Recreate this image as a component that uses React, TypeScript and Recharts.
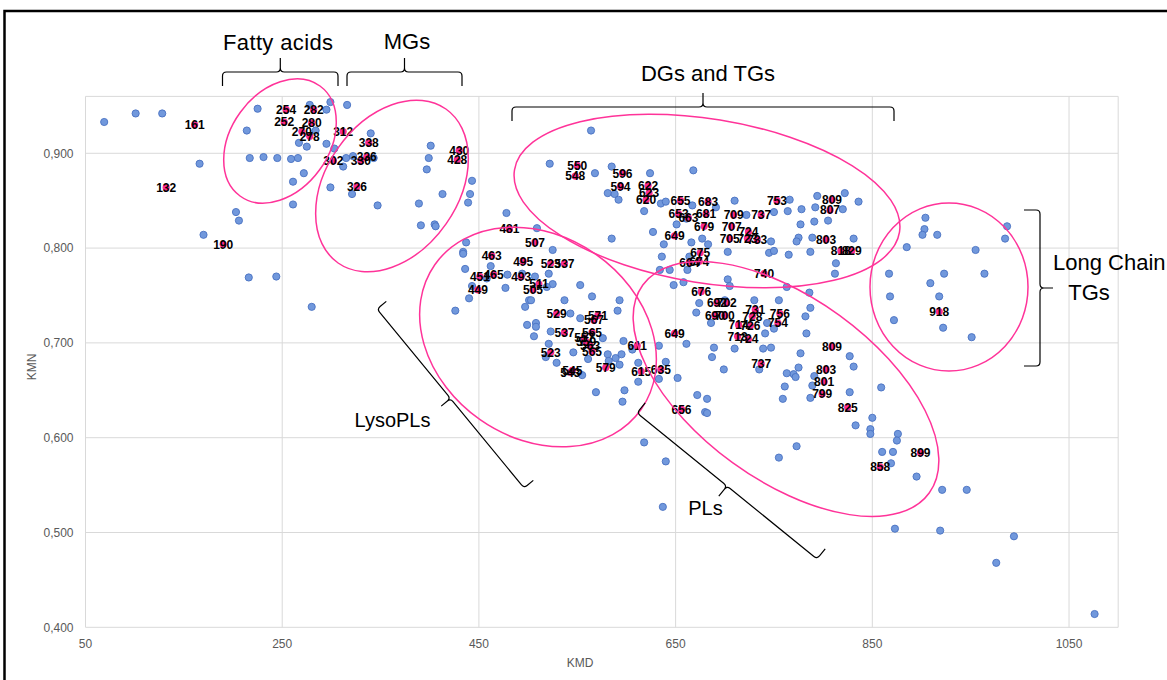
import React from 'react';
import { ScatterChart, Scatter, XAxis, YAxis, CartesianGrid } from 'recharts';

// ---------- data ----------
const blueKMD = [
  69, 101, 128, 166, 214, 225, 217, 231, 245, 259, 266, 278, 295, 299, 316, 284, 267, 275, 295, 303,
  315, 312, 272, 261, 299, 261, 203, 206, 170, 216, 244, 280, 322, 340, 343, 321, 347, 401, 399, 397,
  413, 389, 391, 405, 406, 443, 441, 439, 478, 437, 434, 434, 436, 462, 458, 443, 440, 477, 479, 494,
  426, 501, 497, 564, 522, 585, 568, 624, 668, 581, 588, 592, 618, 635, 640, 667, 691, 710, 651, 661,
  722, 750, 509, 585, 627, 638, 636, 666, 677, 683, 703, 745, 750, 525, 664, 662, 634, 644, 658, 648,
  703, 705, 521, 553, 525, 507, 503, 537, 565, 593, 674, 730, 755, 766, 764, 778, 794, 822, 836, 792,
  820, 805, 791, 777, 775, 773, 789, 747, 831, 765, 787, 813, 812, 763, 786, 787, 782, 783, 743, 741,
  750, 747, 904, 903, 901, 916, 885, 987, 985, 955, 867, 923, 964, 909, 868, 918, 872, 922, 951, 519,
  591, 543, 553, 508, 499, 508, 506, 523, 521, 518, 529, 546, 561, 576, 556, 581, 589, 595, 597, 593,
  582, 606, 612, 612, 598, 596, 569, 555, 633, 640, 633, 652, 671, 686, 700, 661, 689, 710, 739, 777,
  687, 699, 735, 775, 770, 772, 763, 761, 759, 791, 789, 787, 827, 831, 827, 833, 850, 848, 848, 859,
  672, 682, 680, 682, 618, 640, 637, 755, 773, 876, 875, 860, 871, 869, 895, 921, 946, 873, 919, 994,
  976, 1076,
];
const blueKMN = [
  0.933, 0.942, 0.942, 0.889, 0.924, 0.947, 0.895, 0.896, 0.895, 0.894, 0.895, 0.951, 0.946, 0.954, 0.951, 0.924, 0.911, 0.907, 0.910, 0.905,
  0.895, 0.886, 0.879, 0.870, 0.864, 0.846, 0.838, 0.829, 0.814, 0.769, 0.770, 0.738, 0.897, 0.921, 0.895, 0.857, 0.845, 0.908, 0.895, 0.883,
  0.857, 0.847, 0.824, 0.825, 0.823, 0.871, 0.857, 0.848, 0.837, 0.806, 0.796, 0.794, 0.778, 0.781, 0.768, 0.760, 0.747, 0.758, 0.772, 0.773,
  0.734, 0.745, 0.738, 0.924, 0.889, 0.886, 0.879, 0.879, 0.882, 0.858, 0.857, 0.851, 0.839, 0.847, 0.849, 0.845, 0.843, 0.850, 0.825, 0.831,
  0.835, 0.838, 0.821, 0.810, 0.817, 0.804, 0.791, 0.806, 0.810, 0.804, 0.796, 0.795, 0.797, 0.798, 0.791, 0.777, 0.777, 0.777, 0.764, 0.761,
  0.767, 0.760, 0.773, 0.761, 0.762, 0.770, 0.745, 0.745, 0.749, 0.745, 0.742, 0.745, 0.745, 0.851, 0.839, 0.841, 0.855, 0.858, 0.849, 0.843,
  0.841, 0.829, 0.828, 0.825, 0.811, 0.807, 0.811, 0.807, 0.810, 0.793, 0.796, 0.784, 0.773, 0.759, 0.753, 0.737, 0.728, 0.710, 0.721, 0.710,
  0.715, 0.695, 0.832, 0.820, 0.814, 0.814, 0.801, 0.823, 0.810, 0.798, 0.773, 0.773, 0.773, 0.763, 0.749, 0.749, 0.724, 0.716, 0.706, 0.759,
  0.734, 0.731, 0.726, 0.721, 0.719, 0.717, 0.707, 0.712, 0.699, 0.685, 0.679, 0.690, 0.683, 0.705, 0.703, 0.688, 0.684, 0.688, 0.702, 0.677,
  0.681, 0.693, 0.679, 0.659, 0.650, 0.638, 0.648, 0.666, 0.697, 0.680, 0.662, 0.663, 0.732, 0.721, 0.745, 0.699, 0.695, 0.694, 0.694, 0.689,
  0.685, 0.672, 0.672, 0.674, 0.667, 0.664, 0.668, 0.654, 0.641, 0.665, 0.655, 0.642, 0.686, 0.675, 0.648, 0.613, 0.621, 0.609, 0.604, 0.653,
  0.645, 0.641, 0.627, 0.626, 0.595, 0.575, 0.527, 0.579, 0.591, 0.604, 0.597, 0.585, 0.585, 0.573, 0.559, 0.545, 0.545, 0.504, 0.502, 0.496,
  0.468, 0.414,
];

const labeledMass = [
  161, 132, 190, 254, 282, 252, 280, 270, 278, 312, 302, 338, 336, 330, 326, 430, 428, 481, 463, 451,
  465, 449, 507, 495, 523, 537, 493, 511, 505, 550, 548, 596, 594, 622, 623, 620, 655, 683, 653, 663,
  681, 709, 737, 753, 809, 807, 679, 707, 724, 705, 723, 733, 649, 803, 818, 829, 675, 664, 674, 740,
  676, 692, 702, 690, 700, 731, 728, 756, 754, 714, 726, 713, 724, 737, 649, 611, 615, 635, 656, 809,
  803, 801, 799, 825, 858, 899, 918, 529, 571, 567, 537, 565, 557, 559, 563, 565, 523, 545, 543, 579,
];
const labeledKMN = [
  0.930, 0.864, 0.804, 0.946, 0.946, 0.933, 0.932, 0.923, 0.918, 0.923, 0.892, 0.911, 0.896, 0.892, 0.865, 0.903, 0.893, 0.820, 0.792, 0.770,
  0.772, 0.756, 0.806, 0.786, 0.784, 0.784, 0.770, 0.762, 0.756, 0.887, 0.876, 0.879, 0.865, 0.866, 0.858, 0.851, 0.850, 0.849, 0.836, 0.832,
  0.836, 0.835, 0.835, 0.850, 0.851, 0.840, 0.823, 0.823, 0.817, 0.810, 0.810, 0.809, 0.813, 0.809, 0.797, 0.797, 0.795, 0.785, 0.786, 0.773,
  0.754, 0.742, 0.742, 0.729, 0.729, 0.735, 0.728, 0.731, 0.721, 0.719, 0.718, 0.707, 0.704, 0.678, 0.710, 0.697, 0.670, 0.672, 0.630, 0.696,
  0.672, 0.659, 0.646, 0.632, 0.569, 0.584, 0.733, 0.731, 0.729, 0.724, 0.711, 0.711, 0.705, 0.701, 0.697, 0.691, 0.690, 0.671, 0.669, 0.674,
];

const xTicks = [50, 250, 450, 650, 850, 1050];
const yTicks = [0.4, 0.5, 0.6, 0.7, 0.8, 0.9];
const xDomain = [50, 1100];
const yDomain = [0.4, 0.96];

const bluePoints = blueKMD.map((x, i) => ({ x, y: blueKMN[i] }));
const labeledPoints = labeledMass.map((m, i) => ({ x: m, y: labeledKMN[i], label: String(m) }));

// ---------- styles ----------
const PINK = '#ff3399';
const FONT = "'Liberation Sans', Arial, sans-serif";
const GREY = '#595959';

const BlueDot = (p: any) =>
  p.cx == null ? null : (
    <circle cx={p.cx} cy={p.cy} r={3.6} fill="#7198dc" stroke="#4a72c2" strokeWidth={0.9} />
  );
const PinkDot = (p: any) =>
  p.cx == null ? null : <circle cx={p.cx} cy={p.cy} r={3.6} fill="#ff2a8d" />;
const LabelText = (p: any) =>
  p.cx == null ? null : (
    <text
      x={p.cx}
      y={p.cy}
      dy="0.36em"
      textAnchor="middle"
      fontFamily={FONT}
      fontWeight={700}
      fontSize={12}
      fill="#000"
    >
      {p.payload.label}
    </text>
  );

function brace(x1: number, y1: number, x2: number, y2: number, nx: number, ny: number, h: number, t: number) {
  const L = Math.hypot(x2 - x1, y2 - y1);
  const ux = (x2 - x1) / L;
  const uy = (y2 - y1) / L;
  const r = 4;
  const mx = (x1 + x2) / 2;
  const my = (y1 + y2) / 2;
  const p = (x: number, y: number) => `${x.toFixed(1)},${y.toFixed(1)}`;
  return [
    `M${p(x1 - nx * h, y1 - ny * h)}`,
    `L${p(x1 - nx * r, y1 - ny * r)}`,
    `Q${p(x1, y1)} ${p(x1 + ux * r, y1 + uy * r)}`,
    `L${p(mx - ux * r, my - uy * r)}`,
    `Q${p(mx, my)} ${p(mx + nx * r, my + ny * r)}`,
    `L${p(mx + nx * t, my + ny * t)}`,
    `M${p(mx + nx * r, my + ny * r)}`,
    `Q${p(mx, my)} ${p(mx + ux * r, my + uy * r)}`,
    `L${p(x2 - ux * r, y2 - uy * r)}`,
    `Q${p(x2, y2)} ${p(x2 - nx * r, y2 - ny * r)}`,
    `L${p(x2 - nx * h, y2 - ny * h)}`,
  ].join(' ');
}

const Overlay = () => {
  const lyso = { nx: -0.771, ny: 0.637 };
  const pls = { nx: -0.63, ny: 0.777 };
  const big = { fontFamily: FONT, fill: '#000' } as any;
  return (
    <svg
      width={1167}
      height={680}
      style={{ position: 'absolute', left: 0, top: 0, pointerEvents: 'none' }}
    >
      {/* frame */}
      <rect x={4.5} y={11} width={1300} height={1000} fill="none" stroke="#000" strokeWidth={2.5} />

      {/* axis titles */}
      <text x={580} y={667} textAnchor="middle" fontFamily={FONT} fontSize={12} fill={GREY}>KMD</text>
      <text
        x={0}
        y={0}
        transform="translate(36,367) rotate(-90)"
        textAnchor="middle"
        fontFamily={FONT}
        fontSize={12}
        fill={GREY}
      >
        KMN
      </text>

      {/* ellipses */}
      <g fill="none" stroke={PINK} strokeWidth={1.5}>
        <ellipse cx={280} cy={141} rx={68} ry={49} transform="rotate(-54 280 141)" />
        <ellipse cx={392} cy={186} rx={94} ry={66} transform="rotate(-55 392 186)" />
        <ellipse cx={707} cy={201} rx={195} ry={82} transform="rotate(9.2 707 201)" />
        <ellipse cx={538} cy={337} rx={126} ry={101} transform="rotate(35 538 337)" />
        <ellipse cx={786} cy={389} rx={177} ry={91} transform="rotate(36 786 389)" />
        <ellipse cx={949} cy={287} rx={79} ry={84} />
      </g>

      {/* braces */}
      <g fill="none" stroke="#000" strokeWidth={1.2}>
        <path d={brace(222.5, 72, 338, 72, 0, -1, 14, 14)} />
        <path d={brace(347, 72, 462, 72, 0, -1, 14, 14)} />
        <path d={brace(512, 107, 894, 107, 0, -1, 14, 14)} />
        <path d={brace(1040, 210, 1040, 366, 1, 0, 16, 13)} />
        <path d={brace(377, 309, 524, 488, lyso.nx, lyso.ny, 12, 12)} />
        <path d={brace(637, 413, 817, 559, pls.nx, pls.ny, 13, 13)} />
      </g>

      {/* group labels */}
      <text {...big} x={278} y={50} textAnchor="middle" fontSize={22} textLength={110}>Fatty acids</text>
      <text {...big} x={407} y={49} textAnchor="middle" fontSize={22}>MGs</text>
      <text {...big} x={708} y={81} textAnchor="middle" fontSize={22}>DGs and TGs</text>
      <text {...big} x={1053} y={270} fontSize={22}>Long Chain</text>
      <text {...big} x={1089} y={300} textAnchor="middle" fontSize={22}>TGs</text>
      <text {...big} x={392.5} y={427} textAnchor="middle" fontSize={20}>LysoPLs</text>
      <text {...big} x={705.5} y={515} textAnchor="middle" fontSize={20}>PLs</text>
    </svg>
  );
};

const fmtY = (v: number) => v.toFixed(3).replace('.', ',');

export default function App() {
  return (
    <div style={{ position: 'absolute', left: 0, top: 0, width: 1167, height: 680, background: '#fff' }}>
      <ScatterChart
        width={1167}
        height={680}
        margin={{ top: 96.4, right: 48.8, bottom: 22.7, left: 25.5 }}
      >
        <CartesianGrid stroke="#d9d9d9" />
        <XAxis
          type="number"
          dataKey="x"
          domain={xDomain}
          ticks={xTicks}
          allowDataOverflow
          height={30}
          axisLine={false}
          tickLine={false}
          tickSize={0}
          tickMargin={12}
          tick={{ fontSize: 12, fill: GREY, fontFamily: FONT }}
        />
        <YAxis
          type="number"
          dataKey="y"
          domain={yDomain}
          ticks={yTicks}
          allowDataOverflow
          width={60}
          axisLine={false}
          tickLine={false}
          tickSize={0}
          tickMargin={12}
          tickFormatter={fmtY}
          tick={{ fontSize: 12, fill: GREY, fontFamily: FONT }}
        />
        <Scatter data={bluePoints} shape={BlueDot} isAnimationActive={false} />
        <Scatter data={labeledPoints} shape={PinkDot} isAnimationActive={false} />
        <Scatter data={labeledPoints} shape={LabelText} isAnimationActive={false} />
      </ScatterChart>
      <Overlay />
    </div>
  );
}
